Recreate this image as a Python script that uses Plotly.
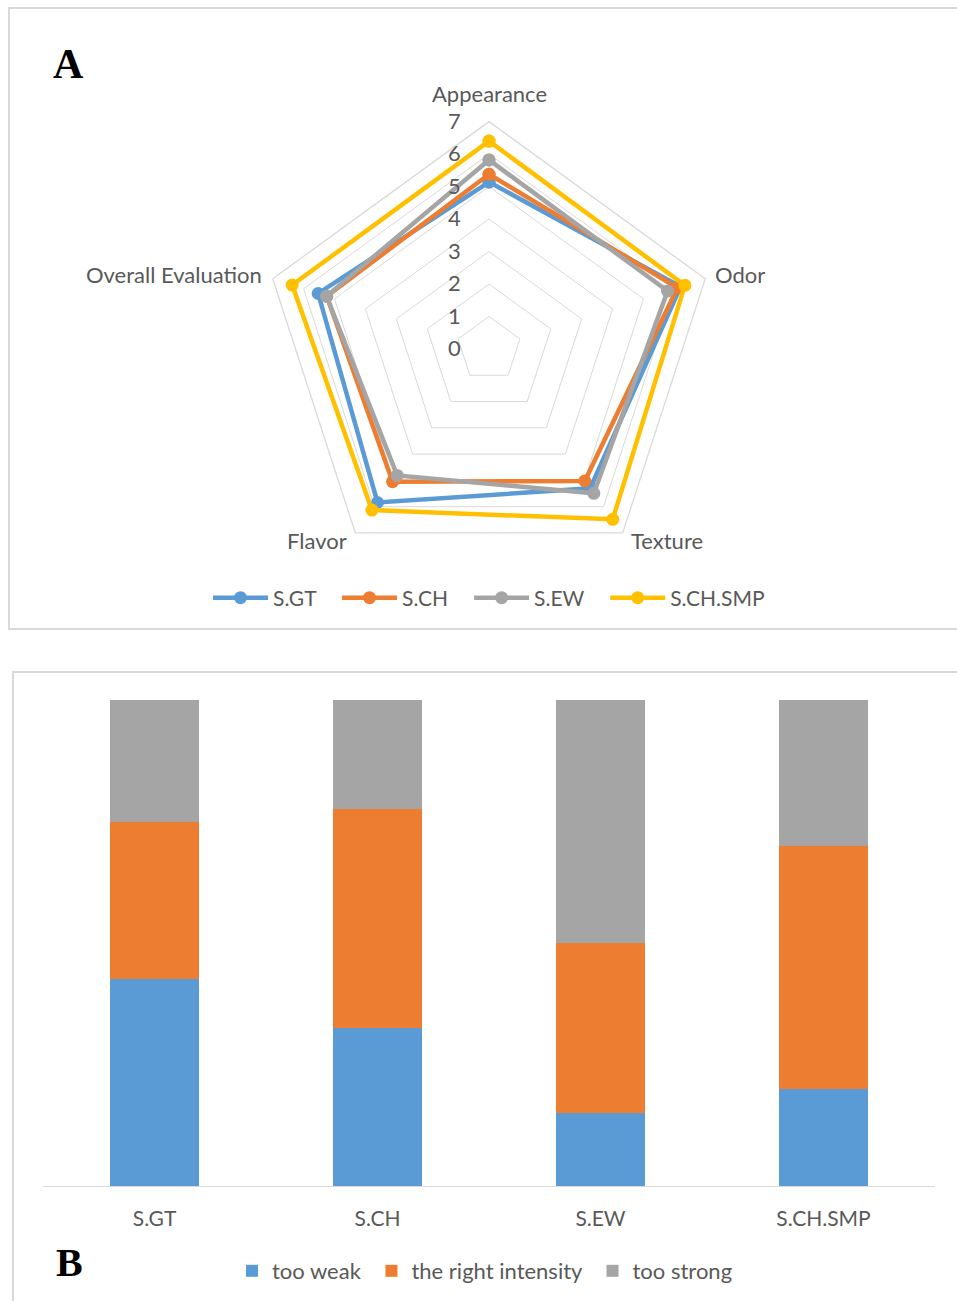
import plotly.graph_objects as go

# ---------------- Data ----------------
attributes = ["Appearance", "Odor", "Texture", "Flavor", "Overall Evaluation"]
samples = ["S.GT", "S.CH", "S.EW", "S.CH.SMP"]
s_gt = [5.14, 6.2, 5.3, 5.84, 5.53]
s_ch = [5.38, 6.1, 5.02, 5.05, 5.25]
s_ew = [5.82, 5.78, 5.49, 4.81, 5.26]
s_ch_smp = [6.4, 6.34, 6.48, 6.13, 6.37]
radial_ticks = [0, 1, 2, 3, 4, 5, 6, 7]

too_weak = [42.5, 32.5, 15.0, 20.0]
right_intensity = [32.5, 45.0, 35.0, 50.0]
too_strong = [25.0, 22.5, 50.0, 30.0]

W, H = 957, 1301
FONT = "Lato"
TXT = "#595959"
GRID = "#d9d9d9"
colors = ["#5B9BD5", "#ED7D31", "#A5A5A5", "#FFC000"]
NB = "\u00a0"

fig = go.Figure()

radar_series = [s_gt, s_ch, s_ew, s_ch_smp]
for i, (name, vals, col) in enumerate(zip(samples, radar_series, colors)):
    fig.add_trace(go.Scatterpolar(
        r=vals + [vals[0]],
        theta=attributes + [attributes[0]],
        mode="lines+markers",
        name=name + (NB * 3 if i < len(samples) - 1 else ""),
        line=dict(color=col, width=4.5),
        marker=dict(color=col, size=13),
        legend="legend",
        subplot="polar",
    ))

bar_series = [("too weak", too_weak, colors[0]),
              ("the right intensity", right_intensity, colors[1]),
              ("too strong", too_strong, colors[2])]
for i, (name, vals, col) in enumerate(bar_series):
    fig.add_trace(go.Bar(
        x=samples, y=vals, name=name + (NB if i < len(bar_series) - 1 else ""),
        marker=dict(color=col, line=dict(width=0)),
        legend="legend2",
        xaxis="x", yaxis="y",
    ))

def px_x(x):
    return x / W

def px_y(y):
    return 1 - y / H

cx, cy, R = 489, 349, 227.4

# angular category labels placed around the pentagon
label_pos = {
    "Appearance": (489, 94, "center"),
    "Odor": (713, 274, "left"),
    "Texture": (629, 540, "left"),
    "Flavor": (349, 540, "right"),
    "Overall Evaluation": (264, 274, "right"),
}
annotations = []
for cat in attributes:
    x, y, anc = label_pos[cat]
    annotations.append(dict(
        text=cat, xref="paper", yref="paper", x=px_x(x), y=px_y(y),
        xanchor=anc, yanchor="middle", showarrow=False,
        font=dict(family=FONT, size=22, color=TXT)))

annotations += [
    dict(text="<b>A</b>", xref="paper", yref="paper", x=px_x(68), y=px_y(64),
         xanchor="center", yanchor="middle", showarrow=False,
         font=dict(family="Liberation Serif", size=42, color="black")),
    dict(text="<b>B</b>", xref="paper", yref="paper", x=px_x(69), y=px_y(1262),
         xanchor="center", yanchor="middle", showarrow=False,
         font=dict(family="Liberation Serif", size=40, color="black")),
]

fig.update_layout(
    width=W, height=H,
    margin=dict(l=0, r=0, t=0, b=0),
    paper_bgcolor="white",
    plot_bgcolor="white",
    font=dict(family=FONT, color=TXT, size=21),
    barmode="stack",
    bargap=0.6,
    polar=dict(
        domain=dict(x=[px_x(cx - R), px_x(cx + R)], y=[px_y(cy + R), px_y(cy - R)]),
        bgcolor="white",
        gridshape="linear",
        radialaxis=dict(
            range=[0, 7], tickvals=radial_ticks, angle=90, side="counterclockwise",
            tickangle=90, showline=False, ticks="outside", ticklen=20,
            tickcolor="rgba(0,0,0,0)", gridcolor=GRID, gridwidth=1.3,
            tickfont=dict(family=FONT, size=22, color=TXT),
        ),
        angularaxis=dict(
            rotation=90, direction="clockwise", showgrid=False,
            showline=True, linecolor=GRID, linewidth=1.3, ticks="",
            showticklabels=False,
        ),
    ),
    xaxis=dict(
        domain=[px_x(43), px_x(935)], showline=True, linecolor=GRID, linewidth=1.3,
        ticks="", showgrid=False, tickfont=dict(family=FONT, size=21, color=TXT),
        automargin=False, ticklabelstandoff=14, fixedrange=True,
    ),
    yaxis=dict(
        domain=[px_y(1186), px_y(700)], range=[0, 100], visible=False,
        automargin=False, fixedrange=True,
    ),
    legend=dict(
        orientation="h", x=px_x(489), xanchor="center", y=px_y(598), yanchor="middle",
        font=dict(family=FONT, size=21, color=TXT), bgcolor="rgba(0,0,0,0)",
        itemwidth=55, traceorder="normal",
    ),
    legend2=dict(
        orientation="h", x=px_x(485), xanchor="center", y=px_y(1271), yanchor="middle",
        font=dict(family=FONT, size=22, color=TXT), bgcolor="rgba(0,0,0,0)",
        traceorder="normal", itemwidth=30,
    ),
    shapes=[
        dict(type="rect", xref="paper", yref="paper",
             x0=px_x(9), x1=1.05, y0=px_y(629), y1=px_y(8),
             line=dict(color=GRID, width=2), fillcolor="rgba(0,0,0,0)", layer="below"),
        dict(type="rect", xref="paper", yref="paper",
             x0=px_x(13), x1=1.05, y0=-0.05, y1=px_y(672),
             line=dict(color=GRID, width=2), fillcolor="rgba(0,0,0,0)", layer="below"),
    ],
    annotations=annotations,
)

fig.write_html("out.html")
